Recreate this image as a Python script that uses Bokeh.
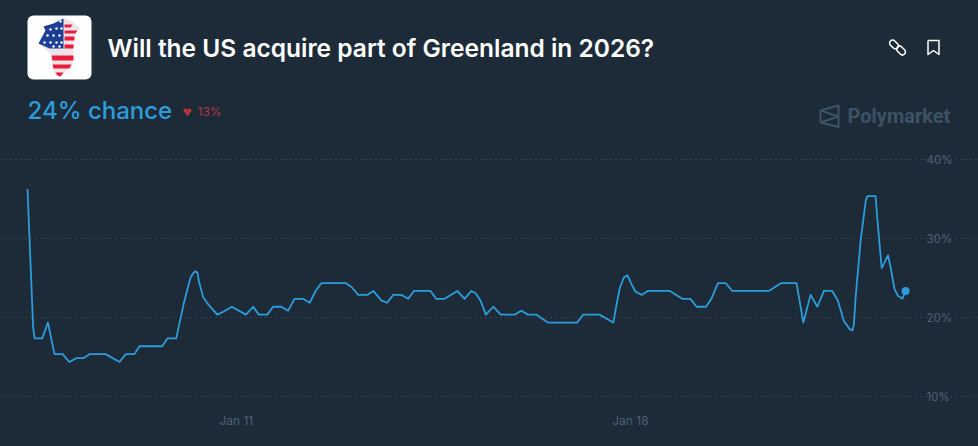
from bokeh.embed import file_html
from bokeh.models import ColumnDataSource, FixedTicker, Grid, Label, LinearAxis, Range1d, CustomJSTickFormatter
from bokeh.plotting import figure
from bokeh.resources import INLINE

# hours since the first sample (Jan 7, 07:00)
hours = [0, 2.4, 3, 6.3, 8.7, 11.5, 15, 17.8, 20.9, 24, 26.4, 33.3, 39.2, 41.9, 45.6, 47.7, 57.4, 59.7, 63.4,
         66.6, 68.8, 69.5, 70.8, 71.6, 72.5, 73, 74.9, 77.3, 80.9, 83.7, 87.1, 93.1, 96.2, 98.6, 102.2, 104.7, 108.2, 111.1,
         113.8, 117.5, 120.3, 122.8, 125.3, 135.6, 138.1, 141, 144.8, 147.4, 150.8, 153.3, 155.9, 159.3,
         162.3, 164.7, 171.8, 174.2, 177.8, 183.2, 186.3, 189.2, 191, 193.1, 195.4, 198.5, 201.7, 207.7,
         210.5, 213.3, 217, 221.8, 234.3, 236.9, 243.8, 249.7, 251.1, 252.5, 254.2, 255.7, 257.4, 259.2,
         261.8, 264.4, 273.8, 279.1, 282.6, 285.2, 289.3, 291.5, 294.3, 297.6, 300.4, 316, 321.3, 327.8,
         330.7, 333.8, 336.7, 339.5, 343, 345.4, 348, 350.4, 351.6, 352.2, 353, 355.1, 357.3, 358, 361.5, 362.2, 364.1,
         366.8, 367.9, 369.6, 371, 372.9, 374.3]
chance = [36.3, 18.8, 17.4, 17.4, 19.4, 15.4, 15.4, 14.4, 14.9, 14.9, 15.4, 15.4, 14.4, 15.4, 15.4, 16.4, 16.4, 17.4, 17.4,
          21.8, 24.3, 25.1, 25.7, 25.9, 25.7, 24.7, 22.6, 21.6, 20.4, 20.8, 21.4, 20.4, 21.4, 20.4, 20.4, 21.4, 21.4, 20.9,
          22.4, 22.4, 21.9, 23.4, 24.4, 24.4, 23.9, 22.9, 22.9, 23.4, 22.2, 21.9, 22.9, 22.9,
          22.4, 23.4, 23.4, 22.4, 22.4, 23.4, 22.4, 23.4, 23.1, 22.2, 20.4, 21.4, 20.4, 20.4,
          20.9, 20.4, 20.4, 19.4, 19.4, 20.4, 20.4, 19.4, 21.7, 23.8, 25.1, 25.4, 24.3, 23.3,
          22.9, 23.4, 23.4, 22.4, 22.4, 21.4, 21.4, 22.4, 24.4, 24.4, 23.4, 23.4, 24.4, 24.4,
          19.4, 22.9, 21.4, 23.4, 23.4, 22.2, 19.6, 18.6, 18.4, 19.0, 22.6, 29.7, 34.8, 35.4, 35.4, 32.7, 26.3,
          27.9, 26.4, 23.6, 22.8, 22.4, 23.4]
y_ticks = [10, 20, 30, 40]
date_ticks = [89, 257]
date_labels = ["Jan 11", "Jan 18"]
title = "Will the US acquire part of Greenland in 2026?"
headline = "24% chance"
change = "13%"
brand = "Polymarket"

BG = "#1d2b39"
BLUE = "#2d9cdb"
HOUR_PX = 2.346
PCT_PX = 7.9


def hx(px):
    return (px - 27) / HOUR_PX


def py(px):
    return 20 + (317.3 - px) / PCT_PX


p = figure(width=978, height=446, output_backend="svg", toolbar_location=None,
           x_range=Range1d(hx(0), hx(978)), y_range=Range1d(py(446), py(0)),
           x_axis_type=None, y_axis_type=None, min_border=0,
           background_fill_color=BG, border_fill_color=BG, outline_line_color=None)
p.grid.visible = False
p.extra_x_ranges["px"] = Range1d(0, 978)
p.extra_y_ranges["px"] = Range1d(446, 0)


def poly(xs, ys, **kw):
    p.patch(xs, ys, x_range_name="px", y_range_name="px", line_color=None, **kw)


# grid
ticker = FixedTicker(ticks=y_ticks)
p.add_layout(Grid(dimension=1, ticker=ticker, bounds=(hx(27), hx(921)), grid_line_color="#4a5d70",
                  grid_line_dash=[1, 4], grid_line_width=1))

# axes
yaxis = LinearAxis(ticker=ticker, fixed_location=hx(920), axis_line_color=None, major_tick_line_color=None,
                   minor_tick_line_color=None, major_label_text_color="#4c6176", major_label_text_font="Inter",
                   major_label_text_font_size="11.5px", major_label_standoff=0,
                   formatter=CustomJSTickFormatter(code="return tick + '%'"))
p.add_layout(yaxis, "right")
xaxis = LinearAxis(ticker=FixedTicker(ticks=date_ticks), fixed_location=py(403.5), axis_line_color=None,
                   major_tick_line_color=None, minor_tick_line_color=None, major_label_text_color="#4c6176",
                   major_label_text_font="Inter", major_label_text_font_size="12px", major_label_standoff=3,
                   major_label_overrides=dict(zip(date_ticks, date_labels)))
p.add_layout(xaxis, "below")

# series
src = ColumnDataSource(dict(h=hours, v=chance))
p.line("h", "v", source=src, line_color=BLUE, line_width=1.8, line_join="round")
p.scatter([hours[-1]], [chance[-1]], size=8, color=BLUE, line_color=None)


def text(x, y, s, size, color, font, style="normal", align="left"):
    p.add_layout(Label(x=x, y=y, x_range_name="px", y_range_name="px", text=s, text_font_size=size, text_color=color,
                       text_font=font, text_font_style=style, text_align=align, text_baseline="alphabetic"))


text(107, 47, title, "24.5px", "#ffffff", "'Inter SemiBold', Inter")
text(27, 110, headline, "24px", BLUE, "'Inter Medium', Inter")
text(197, 110.5, change, "12px", "#b8353c", "Inter")
text(847, 115, brand, "20px", "#3d5266", "Roboto", "bold")

# white icon tile
p.rect([59], [47], 64, 64, x_range_name="px", y_range_name="px", color="#ffffff", line_color=None, border_radius=6)
# Greenland silhouette with flag pattern
poly([63, 70, 80, 75, 73, 73, 72, 65, 60, 55, 52, 50, 38, 45, 43, 53], [18, 20, 28, 31, 41, 51, 63, 71, 76, 75, 66, 53, 43, 30, 26, 23],
     color="#ede4e8")
poly([43, 53, 63, 63, 49, 38, 45], [26, 23, 18, 48, 48, 43, 30], color="#1c3f94")
for sx, sy in [(60, 21), (50, 29), (56, 28), (61, 28), (47, 35), (53, 35), (59, 35), (44, 42), (50, 42), (56, 42), (61, 42), (53, 46), (59, 46)]:
    p.scatter([sx], [sy], x_range_name="px", y_range_name="px", size=2.5, color="#ffffff", line_color=None)
for xs, ys in [([64, 72, 70, 64], [24, 24, 27, 27]), ([64, 77, 75, 64], [30, 30, 33, 33]), ([64, 74, 74, 64], [36, 36, 40, 40]),
               ([64, 73, 73, 64], [44, 44, 48, 48]), ([51, 73, 73, 52], [55, 55, 60, 60]), ([52, 71, 69, 53], [64, 64, 68, 68]),
               ([55, 63, 60, 57], [72, 72, 76, 75])]:
    poly(xs, ys, color="#ea1c3c")

# header action icons
p.rect([893.5, 900.5], [44, 50], width=10, height=6, angle=-45, angle_units="deg", x_range_name="px", y_range_name="px",
       fill_color=None, line_color="#ffffff", line_width=1.5, border_radius=3)
p.line([927.5, 938.5, 938.5, 933, 927.5, 927.5], [40, 40, 54, 50, 54, 40], x_range_name="px", y_range_name="px", line_color="#ffffff", line_width=1.5, line_join="round")

# change marker
poly([183, 191, 187], [110, 110, 116], color="#b8353c")
p.circle([185, 189], [110, 110], radius=2, x_range_name="px", y_range_name="px", color="#b8353c", line_color=None, radius_units="screen")

# brand mark
p.line([838, 820, 820, 838, 838, 820, 838, 820], [105, 110, 122, 126.5, 105, 110, 116, 122], x_range_name="px", y_range_name="px",
       line_color="#3d5266", line_width=2, line_join="round")

TEMPLATE = """{% block inner_head %}{{ super() }}<style>html, body { background: #1d2b39; }</style>{% endblock %}
"""
open("out.html", "w").write(file_html(p, INLINE, template=TEMPLATE))
